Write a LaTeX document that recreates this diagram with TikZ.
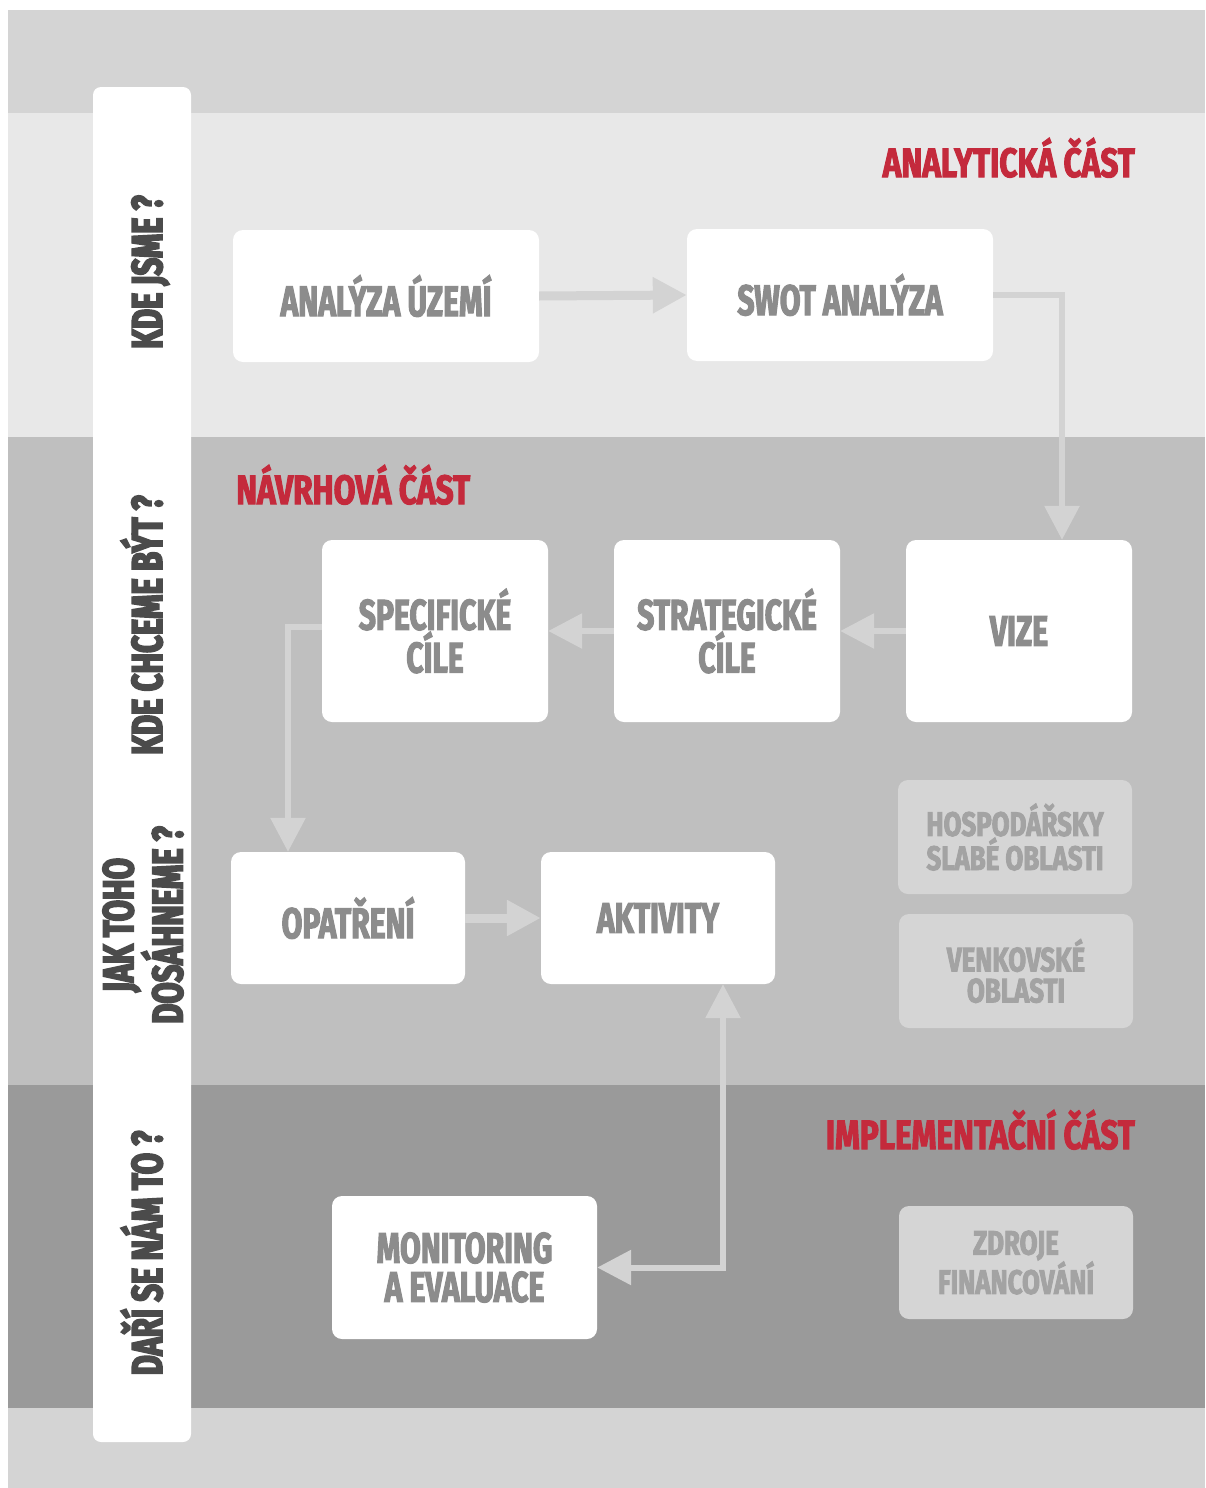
\documentclass[tikz,border=0pt]{standalone}
\usepackage{fontspec}
\usetikzlibrary{arrows.meta}
\newfontfamily\condfont{Fira Sans}[FakeStretch=0.70,FakeBold=2.5]
\newfontfamily\headfont{Fira Sans}[FakeStretch=0.77,FakeBold=2.5]
\newfontfamily\gfont{Fira Sans}[FakeStretch=0.76,FakeBold=2.5]
\newfontfamily\sidefont{Fira Sans}[FakeStretch=0.72,FakeBold=4]
\definecolor{bandtop}{HTML}{D4D4D4}
\definecolor{bandana}{HTML}{E8E8E8}
\definecolor{bandnav}{HTML}{BFBFBF}
\definecolor{bandimp}{HTML}{9A9A9A}
\definecolor{boxtext}{HTML}{8C8C8C}
\definecolor{gboxfill}{HTML}{D5D5D5}
\definecolor{gboxtext}{HTML}{A3A3A3}
\definecolor{headred}{HTML}{C42A3C}
\definecolor{sidetext}{HTML}{4B4B4B}
\definecolor{arrowgray}{HTML}{D3D3D3}
\tikzset{
  box/.style={fill=white, rounded corners=10pt, inner sep=0pt, text=boxtext, align=center,
    font=\condfont\bfseries\fontsize{43}{39}\selectfont},
  gbox/.style={fill=gboxfill, rounded corners=10pt, inner sep=0pt, text=gboxtext, align=center,
    minimum width=234pt, font=\gfont\bfseries\fontsize{34}{31}\selectfont},
  heading/.style={text=headred, inner sep=0pt, font=\headfont\bfseries\fontsize{41}{41}\selectfont},
  side/.style={rotate=90, text=sidetext, inner sep=0pt, align=center,
    font=\sidefont\bfseries\fontsize{43}{39}\selectfont},
  flow/.style={draw=arrowgray, line width=6pt, -{Triangle[width=34pt,length=34pt]}},
  flowthick/.style={flow, line width=9pt},
}
\begin{document}
\begin{tikzpicture}[x=1pt,y=-1pt]
\useasboundingbox (0,0) rectangle (1205,1488);
\fill[white] (0,0) rectangle (1205,1488);
% bands
\fill[bandtop] (8,10) rectangle (1205,113);
\fill[bandana] (8,113) rectangle (1205,437);
\fill[bandnav] (8,437) rectangle (1205,1085);
\fill[bandimp] (8,1085) rectangle (1205,1408);
\fill[bandtop] (8,1408) rectangle (1205,1488);
% side column
\fill[white, rounded corners=8pt] (93,87) rectangle (191,1442);
% side labels
\node[side, anchor=base] (q1) at (162,272) {KDE JSME ?};
\node[side, anchor=base] (q2) at (162,625) {KDE CHCEME BÝT ?};
\node[side] (q3) at (143,925) {JAK TOHO\\DOSÁHNEME ?};
\node[side, anchor=base] (q4) at (162,1253) {DAŘÍ SE NÁM TO ?};
% headings
\node[heading, anchor=base east] (h1) at (1135,177) {ANALYTICKÁ ČÁST};
\node[heading, anchor=base west] (h2) at (236,504) {NÁVRHOVÁ ČÁST};
\node[heading, anchor=base east] (h3) at (1135,1149) {IMPLEMENTAČNÍ ČÁST};
% boxes
\node[box, minimum width=306pt, minimum height=132pt] (anal) at (386,296) {ANALÝZA ÚZEMÍ};
\node[box, minimum width=306pt, minimum height=132pt] (swot) at (840,295) {SWOT ANALÝZA};
\node[box, minimum width=226pt, minimum height=182pt] (vize) at (1019,631) {VIZE};
\node[box, minimum width=226pt, minimum height=182pt] (strat) at (727,631) {STRATEGICKÉ\\CÍLE};
\node[box, minimum width=226pt, minimum height=182pt] (spec) at (435,631) {SPECIFICKÉ\\CÍLE};
\node[box, minimum width=234pt, minimum height=132pt] (opat) at (348,918) {OPATŘENÍ};
\node[box, minimum width=234pt, minimum height=132pt] (akt) at (658,918) {AKTIVITY};
\node[box, minimum width=265pt, minimum height=143pt] (mon) at (464.5,1267.5) {MONITORING\\A EVALUACE};
\node[gbox, minimum height=114pt] (hosp) at (1015,837) {HOSPODÁŘSKY\\SLABÉ OBLASTI};
\node[gbox, minimum height=114pt] (venk) at (1016,971) {VENKOVSKÉ\\OBLASTI};
\node[gbox, minimum height=113pt] (zdroj) at (1016,1262.5) {ZDROJE\\FINANCOVÁNÍ};
% connectors
\draw[flowthick] (anal.east) -- (swot.west);
\draw[flow] (swot.east) -| ([xshift=43pt]vize.north);
\draw[flow] (vize.west) -- (strat.east);
\draw[flow] (strat.west) -- (spec.west -| spec.east);
\draw[flow] ([yshift=4pt]spec.west) -| ([xshift=-60pt]opat.north);
\draw[flowthick] (opat.east) -- (akt.west);
\draw[flow, {Triangle[width=34pt,length=34pt]}-{Triangle[width=34pt,length=34pt]}] ([xshift=65pt]akt.south) |- (mon.east);
\end{tikzpicture}
\end{document}
